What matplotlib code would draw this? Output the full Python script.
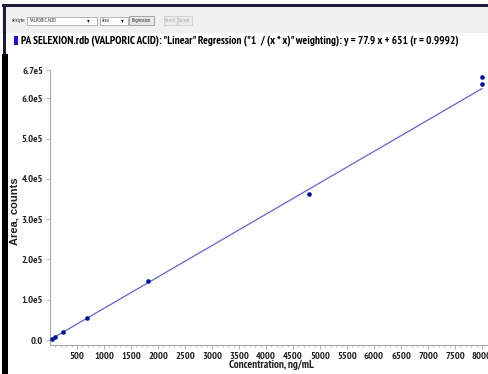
import matplotlib
matplotlib.use("Agg")
import matplotlib.pyplot as plt
from matplotlib.patches import Rectangle
import numpy as np

# ---- data ----
conc = [30, 90, 250, 680, 1820, 4800, 8000, 8000]
area = [3250, 8000, 20000, 55800, 146000, 363000, 652500, 635000]
slope = 77.9
intercept = 651
xticks = [500, 1000, 1500, 2000, 2500, 3000, 3500, 4000, 4500, 5000, 5500,
          6000, 6500, 7000, 7500, 8000]
yticks = [0, 1e5, 2e5, 3e5, 4e5, 5e5, 6e5, 6.7e5]
ytick_labels = ["0.0", "1.0e5", "2.0e5", "3.0e5", "4.0e5", "5.0e5", "6.0e5", "6.7e5"]
title = ('PA SELEXION.rdb (VALPORIC ACID): "Linear" Regression ("1  / (x * x)" '
         'weighting): y = 77.9 x + 651 (r = 0.9992)')

W, H = 489, 374
FAM = ['Liberation Sans', 'DejaVu Sans']
NAR = ['PT Sans Narrow', 'Liberation Sans', 'DejaVu Sans']
fig = plt.figure(figsize=(W / 100, H / 100), dpi=100)
fig.patch.set_facecolor('white')

def fx(px):
    return px / W

def fy(py):
    return 1 - py / H

def rect(x0, y_top, w, h, **kw):
    fig.patches.append(Rectangle((fx(x0), fy(y_top + h)), fx(w), h / H,
                                 transform=fig.transFigure, **kw))

# ---- screenshot chrome ----
rect(2, 6.5, 487, 26.5, facecolor='#f0f0f0', edgecolor='none')
rect(2, 4, 487, 2.5, facecolor='#1c1c38', edgecolor='none')
rect(3.5, 4, 2.5, 370, facecolor='#1c1c38', edgecolor='none')
rect(2, 54, 6, 320, facecolor='black', edgecolor='none')

# toolbar widgets
small = dict(fontsize=3.6, family=NAR, va='center', color='#202020')
fig.text(fx(12), fy(20.5), 'Analyte:', **small)
rect(27, 16.5, 70, 8, facecolor='white', edgecolor='#9a9a9a', lw=0.5)
fig.text(fx(29), fy(20.5), 'VALPORIC ACID', **small)
fig.text(fx(87), fy(20.5), '▾', fontsize=4, va='center', color='#202020')
rect(100, 16.5, 28, 8, facecolor='white', edgecolor='#9a9a9a', lw=0.5)
fig.text(fx(102), fy(20.5), 'Area', **small)
fig.text(fx(121), fy(20.5), '▾', fontsize=4, va='center', color='#202020')
rect(129, 16, 25, 9, facecolor='#e6e6e6', edgecolor='#8a8a8a', lw=0.5)
fig.text(fx(141.5), fy(20.5), 'Regression', ha='center', **small)
for x0, w, lab in [(164, 13, 'Revert'), (178, 14, 'Accept')]:
    rect(x0, 16, w, 9, facecolor='#ececec', edgecolor='#c8c8c8', lw=0.5)
    fig.text(fx(x0 + w / 2), fy(20.5), lab, ha='center', fontsize=3.6, family=NAR,
             va='center', color='#a8a8a8')

# title marker + title
rect(14, 36, 4, 9, facecolor='#1010e0', edgecolor='none')
t = fig.text(fx(21), fy(40.5), title, fontsize=10, fontweight='bold', family=NAR,
             va='center', ha='left', color='black')
fig.canvas.draw()
r = fig.canvas.get_renderer()
wpx = t.get_window_extent(r).width
t.set_fontsize(10 * 441 / wpx)

# ---- axes ----
ax = fig.add_axes([fx(50), 1 - 345 / H, 1 - fx(50), (345 - 70) / H])
ax.set_xlim(0, 8130)
ax.set_ylim(-1.24e4, 6.7e5)
xs = np.array([0, 8000])
ax.plot(xs, slope * xs + intercept, color='#6060f0', lw=0.9, zorder=2)
ax.scatter(conc, area, s=11, marker='o', color='#0010b0', zorder=3, linewidths=0)

for s in ['top', 'right']:
    ax.spines[s].set_visible(False)
for s in ['left', 'bottom']:
    ax.spines[s].set_color('#a8a8a8')
    ax.spines[s].set_linewidth(0.8)

ax.set_xticks(xticks)
ax.set_xticklabels([str(v) for v in xticks])
ax.set_xticks(np.arange(100, 8001, 100), minor=True)
ax.set_yticks(yticks)
ax.set_yticklabels(ytick_labels)
ax.tick_params(axis='both', which='major', length=3, width=0.6, color='#a8a8a8',
               labelsize=7.5, pad=2)
ax.tick_params(axis='x', which='minor', length=1.5, width=0.5, color='#a8a8a8')
for lab in ax.get_xticklabels() + ax.get_yticklabels():
    lab.set_family(NAR)
    lab.set_fontweight('bold')
    lab.set_color('#202020')

fig.text(fx(271), fy(365), 'Concentration, ng/mL', ha='center', va='center',
         fontsize=8, fontweight='bold', family=NAR, color='#202020')
fig.text(fx(15), fy(211), 'Area, counts', ha='center', va='center', rotation=90,
         fontsize=8, fontweight='bold', family=FAM, color='#202020')

fig.savefig('out.png', dpi=100, facecolor='white')
